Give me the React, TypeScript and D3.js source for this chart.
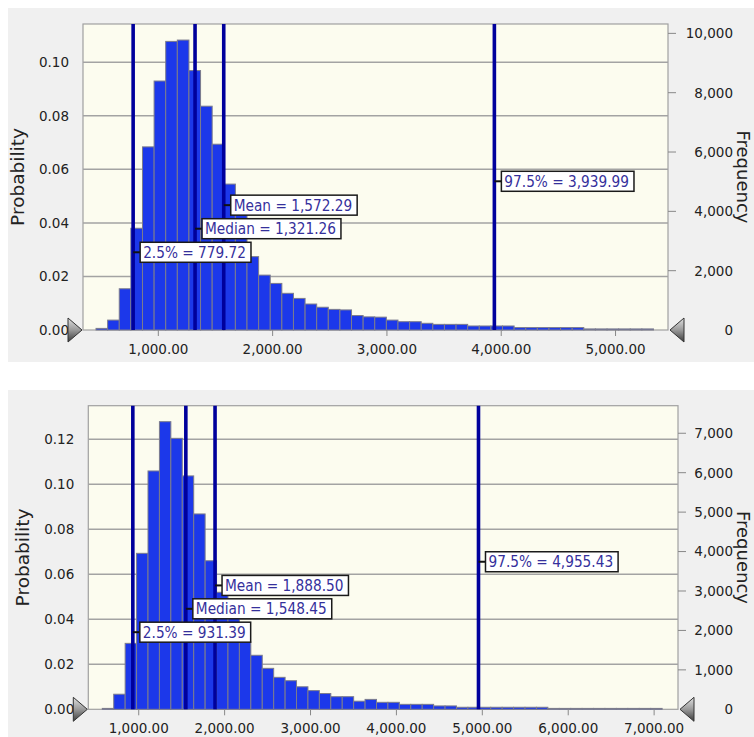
import React from 'react';
import * as d3 from 'd3';

// ---------- shared ----------
const statNames = ['Mean', 'Median', '2.5%', '97.5%'];

// ---------- top chart data ----------
const topBinRange = [455, 5332];
const topProbability = [
  0.0006, 0.0037, 0.0154, 0.038, 0.0684, 0.093, 0.1078, 0.1083, 0.0969, 0.0836,
  0.0694, 0.0545, 0.043, 0.0274, 0.0205, 0.0174, 0.0137, 0.0118, 0.0097, 0.0085,
  0.0077, 0.0075, 0.0054, 0.0049, 0.0048, 0.0037, 0.0031, 0.0031, 0.0025, 0.0021,
  0.0021, 0.0021, 0.0015, 0.0015, 0.0015, 0.0015, 0.0009, 0.0009, 0.0009, 0.0009,
  0.0009, 0.0009, 0.0004, 0.0004, 0.0004, 0.0004, 0.0004, 0.0004,
];
const topStatValues = [1572.29, 1321.26, 779.72, 3939.99];
const topXTicks = [1000, 2000, 3000, 4000, 5000];
const topProbTicks = [0, 0.02, 0.04, 0.06, 0.08, 0.1];
const topFreqTicks = [0, 2000, 4000, 6000, 8000, 10000];
const topTrials = 90250;

// ---------- bottom chart data ----------
const bottomBinRange = [576, 7093];
const bottomProbability = [
  0.0004, 0.0067, 0.0293, 0.0693, 0.1059, 0.1278, 0.1204, 0.1037, 0.0868, 0.066,
  0.052, 0.041, 0.03, 0.024, 0.0182, 0.0142, 0.0127, 0.01, 0.0083, 0.007,
  0.0056, 0.0056, 0.0036, 0.0044, 0.0031, 0.0031, 0.0022, 0.0022, 0.0022, 0.0015,
  0.0015, 0.0009, 0.0009, 0.0009, 0.0009, 0.0009, 0.0009, 0.0009, 0.0009, 0.0004,
  0.0004, 0.0004, 0.0004, 0.0004, 0.0004, 0.0004, 0.0004, 0.0004, 0.0004,
];
const bottomStatValues = [1888.5, 1548.45, 931.39, 4955.43];
const bottomXTicks = [1000, 2000, 3000, 4000, 5000, 6000, 7000];
const bottomProbTicks = [0, 0.02, 0.04, 0.06, 0.08, 0.1, 0.12];
const bottomFreqTicks = [0, 1000, 2000, 3000, 4000, 5000, 6000, 7000];
const bottomTrials = 57070;

// ---------- layout ----------
const FONT = '"DejaVu Sans", Verdana, sans-serif';
const topLayout = {
  panel: { x: 8, y: 8, w: 746, h: 354 },
  plot: { x0: 83, y0: 24, x1: 668, y1: 330 },
  xDomain: [341, 5459],
  probMax: 0.1143,
};
const bottomLayout = {
  panel: { x: 8, y: 390, w: 746, h: 347 },
  plot: { x0: 88.3, y0: 405.7, x1: 678, y1: 709.3 },
  xDomain: [413, 7278],
  probMax: 0.1349,
};
const labelFracs = [0.408, 0.331, 0.254, 0.486];

let _ctx: CanvasRenderingContext2D | null = null;
function measure(text: string, font: string): number {
  if (!_ctx) {
    const c = document.createElement('canvas');
    _ctx = c.getContext('2d');
  }
  if (!_ctx) return text.length * 8;
  _ctx.font = font;
  return _ctx.measureText(text).width;
}

const fmtX = d3.format(',.2f');
const fmtP = d3.format('.2f');
const fmtF = d3.format(',');

function Chart(props: any) {
  const { id, layout, probs, binRange, statValues, xTicks, probTicks, freqTicks, trials } = props;
  const { panel, plot, xDomain, probMax } = layout;
  const x = d3.scaleLinear().domain(xDomain).range([plot.x0, plot.x1]);
  const y = d3.scaleLinear().domain([0, probMax]).range([plot.y1, plot.y0]);
  const yF = d3.scaleLinear().domain([0, probMax * trials]).range([plot.y1, plot.y0]);
  const n = probs.length;
  const bw = (binRange[1] - binRange[0]) / n;
  const cy = (plot.y0 + plot.y1) / 2;
  const labelFont = `13.7px ${FONT}`;

  return (
    <g>
      <defs>
        <linearGradient id={`tri-${id}`} x1="0" y1="0" x2="0" y2="1">
          <stop offset="0" stopColor="#e0e0e0" />
          <stop offset="0.5" stopColor="#9a9a9a" />
          <stop offset="1" stopColor="#3c3c3c" />
        </linearGradient>
      </defs>
      <rect x={panel.x} y={panel.y} width={panel.w} height={panel.h} fill="#f0f0f0" />
      <rect x={plot.x0} y={plot.y0} width={plot.x1 - plot.x0} height={plot.y1 - plot.y0}
        fill="#fcfcef" stroke="#a0a0a0" strokeWidth={1.2} />
      {/* gridlines */}
      {probTicks.filter((t: number) => t > 0).map((t: number) => (
        <line key={`g${t}`} x1={plot.x0} x2={plot.x1} y1={y(t)} y2={y(t)} stroke="#a3a3a3" strokeWidth={1.5} />
      ))}
      {/* bars */}
      {probs.map((p: number, i: number) => {
        const xa = x(binRange[0] + i * bw);
        const xb = x(binRange[0] + (i + 1) * bw);
        return (
          <rect key={`b${i}`} x={xa} y={y(p)} width={xb - xa} height={plot.y1 - y(p)}
            fill="#1c38ea" stroke="#7c7c8c" strokeWidth={1} />
        );
      })}
      {/* stat lines */}
      {statValues.map((v: number, i: number) => (
        <line key={`s${i}`} x1={x(v)} x2={x(v)} y1={plot.y0} y2={plot.y1} stroke="#00009c" strokeWidth={3.6} />
      ))}
      {/* stat labels */}
      {statValues.map((v: number, i: number) => {
        const text = `${statNames[i]} = ${fmtX(v)}`;
        const tw = measure(text, labelFont);
        const lx = x(v);
        const ly = plot.y1 - labelFracs[i] * (plot.y1 - plot.y0);
        const bx = lx + 7;
        return (
          <g key={`l${i}`}>
            <line x1={lx} x2={bx} y1={ly} y2={ly} stroke="#111" strokeWidth={2} />
            <rect x={bx} y={ly - 10} width={tw + 8} height={20} fill="#ffffff" stroke="#1a1a1a" strokeWidth={1.5} />
            <text transform={`translate(${bx + 3},${ly}) scale(1,1.15)`} dy="0.36em"
              fontFamily={FONT} fontSize={13.7} fill="#35309c">{text}</text>
          </g>
        );
      })}
      {/* x ticks */}
      {xTicks.map((t: number) => (
        <g key={`x${t}`}>
          <line x1={x(t)} x2={x(t)} y1={plot.y1} y2={plot.y1 + 6} stroke="#888" strokeWidth={1} />
          <text x={x(t)} y={plot.y1 + 24} textAnchor="middle" fontFamily={FONT} fontSize={13.5} fill="#222">{fmtX(t)}</text>
        </g>
      ))}
      {/* left ticks */}
      {probTicks.map((t: number) => (
        <text key={`p${t}`} x={plot.x0 - 14} y={y(t)} dy="0.36em" textAnchor="end"
          fontFamily={FONT} fontSize={13.5} fill="#222">{fmtP(t)}</text>
      ))}
      {/* right ticks */}
      {freqTicks.map((t: number) => (
        <g key={`f${t}`}>
          {t > 0 && <line x1={plot.x1} x2={plot.x1 + 8} y1={yF(t)} y2={yF(t)} stroke="#888" strokeWidth={1} />}
          <text x={733} y={yF(t)} dy="0.36em" textAnchor="end" fontFamily={FONT} fontSize={13.5} fill="#222">{fmtF(t)}</text>
        </g>
      ))}
      {/* axis titles */}
      <text transform={`translate(${plot.x0 - 59},${cy}) rotate(-90)`} textAnchor="middle"
        fontFamily={FONT} fontSize={18.5} fill="#222">Probability</text>
      <text transform={`translate(737,${cy}) rotate(90)`} textAnchor="middle"
        fontFamily={FONT} fontSize={18} fill="#222">Frequency</text>
      {/* grabber triangles */}
      <path d={`M${plot.x0 - 15},${plot.y1 - 12} L${plot.x0 - 1},${plot.y1} L${plot.x0 - 15},${plot.y1 + 12} Z`}
        fill={`url(#tri-${id})`} stroke="#333" strokeWidth={1} />
      <path d={`M${plot.x1 + 16},${plot.y1 - 12} L${plot.x1 + 2},${plot.y1} L${plot.x1 + 16},${plot.y1 + 12} Z`}
        fill={`url(#tri-${id})`} stroke="#333" strokeWidth={1} />
    </g>
  );
}

export default function App() {
  return (
    <svg width={754} height={737} style={{ position: 'absolute', left: 0, top: 0, background: '#fff' }}>
      <Chart id="top" layout={topLayout} probs={topProbability} binRange={topBinRange}
        statValues={topStatValues} xTicks={topXTicks} probTicks={topProbTicks}
        freqTicks={topFreqTicks} trials={topTrials} />
      <Chart id="bottom" layout={bottomLayout} probs={bottomProbability} binRange={bottomBinRange}
        statValues={bottomStatValues} xTicks={bottomXTicks} probTicks={bottomProbTicks}
        freqTicks={bottomFreqTicks} trials={bottomTrials} />
    </svg>
  );
}
